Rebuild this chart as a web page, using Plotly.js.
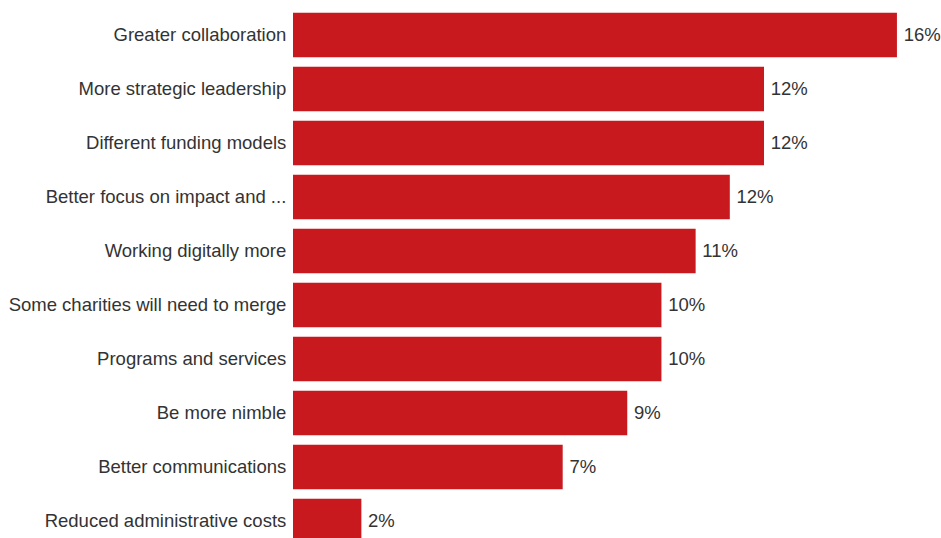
<!DOCTYPE html>
<html>
<head>
<meta charset="utf-8">
<script src="https://cdn.plot.ly/plotly-3.0.1.min.js"></script>
<style>html,body{margin:0;padding:0;background:#fff;}#chart{width:941px;height:538px;}</style>
</head>
<body>
<div id="chart"></div>
<script>
const categories = [
  "Greater collaboration",
  "More strategic leadership",
  "Different funding models",
  "Better focus on impact and ...",
  "Working digitally more",
  "Some charities will need to merge",
  "Programs and services",
  "Be more nimble",
  "Better communications",
  "Reduced administrative costs"
];
const values = [15.9, 12.4, 12.4, 11.5, 10.6, 9.7, 9.7, 8.8, 7.1, 1.8];
const labels = ["16%", "12%", "12%", "12%", "11%", "10%", "10%", "9%", "7%", "2%"];

const trace = {
  type: "bar",
  orientation: "h",
  y: categories,
  x: values,
  text: labels,
  texttemplate: "\u2009%{text}",
  textposition: "outside",
  cliponaxis: false,
  textfont: {family: "Arial, Liberation Sans, sans-serif", size: 18.5, color: "#333333"},
  marker: {color: "#C8191E", line: {width: 0}},
  hoverinfo: "none"
};

const layout = {
  width: 941,
  height: 538,
  margin: {l: 293, r: 0, t: 0, b: 0, pad: 0},
  paper_bgcolor: "#ffffff",
  plot_bgcolor: "#ffffff",
  bargap: 0.176,
  showlegend: false,
  font: {family: "Arial, Liberation Sans, sans-serif", size: 18.5, color: "#333333"},
  xaxis: {range: [0, 17.06], visible: false, fixedrange: true},
  yaxis: {
    type: "category",
    range: [9.315, -0.648],
    showgrid: false,
    zeroline: false,
    showline: false,
    ticks: "outside",
    ticklen: 2,
    tickcolor: "rgba(0,0,0,0)",
    tickfont: {family: "Arial, Liberation Sans, sans-serif", size: 18.5, color: "#333333"},
    fixedrange: true
  }
};

Plotly.newPlot("chart", [trace], layout, {displayModeBar: false, staticPlot: true});
</script>
</body>
</html>
